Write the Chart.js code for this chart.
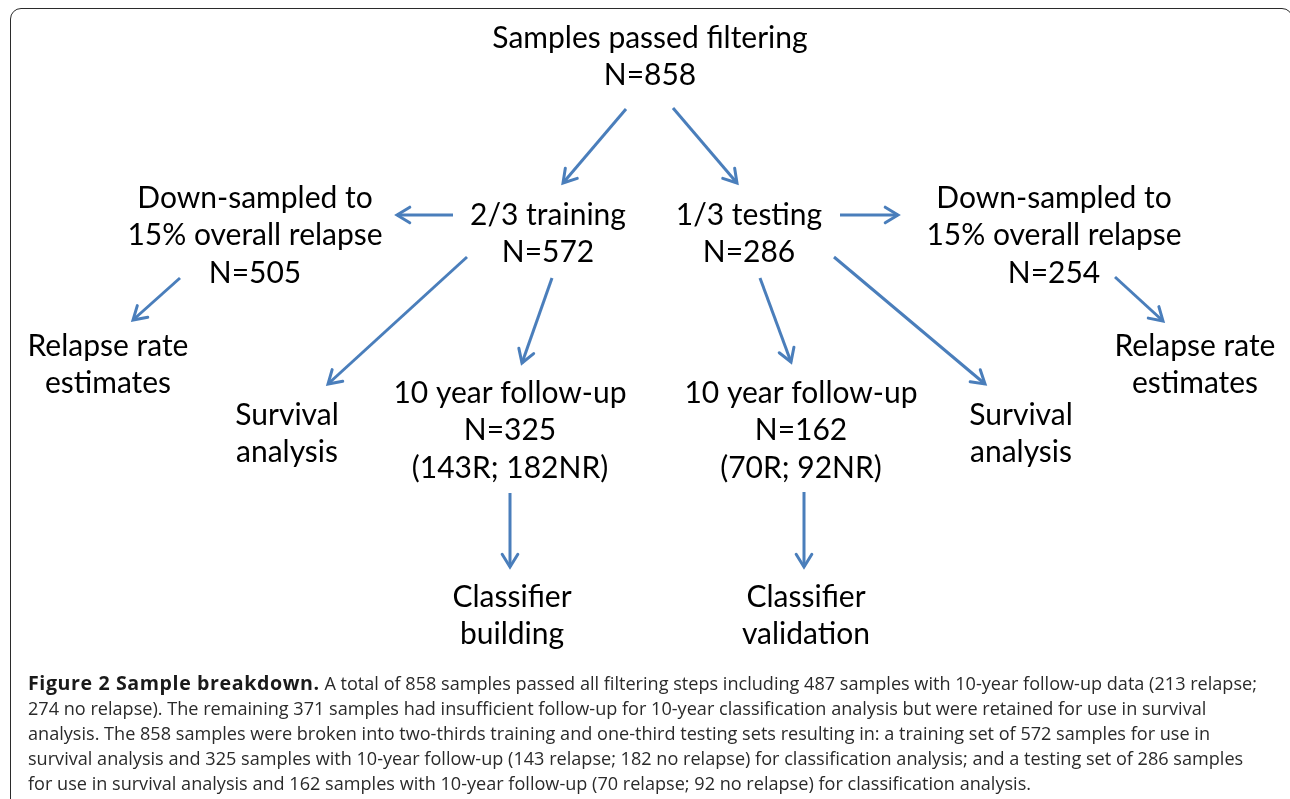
<!DOCTYPE html>
<html>
<head>
<meta charset="utf-8">
<script src="https://cdn.jsdelivr.net/npm/chart.js@4/dist/chart.umd.min.js"></script>
<style>
    html, body { margin: 0; padding: 0; background: #fff; overflow: hidden; }
    #wrap { position: relative; width: 1290px; height: 799px; overflow: hidden; }
    #flow { position: absolute; left: 0; top: 0; }
    #frame {
        position: absolute; left: 10px; top: 8px; width: 1283px; height: 820px;
        border: 1.5px solid #2b2b2b; border-radius: 11px 11px 0 0;
        box-sizing: border-box; pointer-events: none;
    }
    #caption {
        position: absolute; left: 28px; top: 670px; width: 1260px;
        font-family: "Open Sans", sans-serif; font-size: 18.1px; line-height: 25px;
        color: #2a2a2a; white-space: nowrap;
    }
    #caption b { font-weight: 700; color: #1a1a1a; font-size: 19.6px; letter-spacing: 0.6px; }
</style>
</head>
<body>
<div id="wrap">
    <canvas id="flow" width="1290" height="799"></canvas>
    <div id="frame"></div>
    <div id="caption">
        <b>Figure 2 Sample breakdown.</b> A total of 858 samples passed all filtering steps including 487 samples with 10-year follow-up data (213 relapse;<br>
        274 no relapse). The remaining 371 samples had insufficient follow-up for 10-year classification analysis but were retained for use in survival<br>
        analysis. The 858 samples were broken into two-thirds training and one-third testing sets resulting in: a training set of 572 samples for use in<br>
        survival analysis and 325 samples with 10-year follow-up (143 relapse; 182 no relapse) for classification analysis; and a testing set of 286 samples<br>
        for use in survival analysis and 162 samples with 10-year follow-up (70 relapse; 92 no relapse) for classification analysis.
    </div>
</div>

<script>
// Boites du diagramme : texte + centre (x) + ligne du haut (y)
const nodeLabels = [
    ['Samples passed filtering', 'N=858'],
    ['2/3 training', 'N=572'],
    ['1/3 testing', 'N=286'],
    ['Down-sampled to', '15% overall relapse', 'N=505'],
    ['Down-sampled to', '15% overall relapse', 'N=254'],
    ['Relapse rate', 'estimates'],
    ['Relapse rate', 'estimates'],
    ['Survival', 'analysis'],
    ['10 year follow-up', 'N=325', '(143R; 182NR)'],
    ['10 year follow-up', 'N=162', '(70R; 92NR)'],
    ['Survival', 'analysis'],
    ['Classifier', 'building'],
    ['Classifier', 'validation']
];
const nodeX = [650, 548, 749, 255, 1054, 108, 1195, 287, 510, 801, 1021, 512, 806];
const nodeY = [38, 215, 215, 198, 198, 346, 346, 415, 393, 393, 415, 597, 597];

// Fleches : depart -> pointe
const arrowStart = [
    [626, 109], [673, 108], [453, 215], [840, 215],
    [180, 278], [467, 257], [552, 278], [760, 278],
    [834, 257], [1115, 277], [510, 493], [804, 492]
];
const arrowEnd = [
    [563, 183], [737, 183], [397, 215], [898, 215],
    [133, 320], [328, 384], [522, 363], [791, 362],
    [985, 384], [1163, 321], [510, 567], [804, 567]
];

const ARROW_COLOR = '#4a7ebb';
const LINE_GAP = 37.5;

// ==================== PLUGINS ====================

const arrowHeads = {
    id: 'arrowHeads',
    afterDatasetsDraw(chart) {
        const ctx = chart.ctx;
        ctx.save();
        ctx.strokeStyle = ARROW_COLOR;
        ctx.lineWidth = 3;
        ctx.lineCap = 'round';
        chart.data.datasets.forEach((ds, i) => {
            const pts = chart.getDatasetMeta(i).data;
            const a = pts[0], b = pts[1];
            const ang = Math.atan2(b.y - a.y, b.x - a.x);
            const len = 15, spread = 0.55;
            ctx.beginPath();
            ctx.moveTo(b.x - len * Math.cos(ang - spread), b.y - len * Math.sin(ang - spread));
            ctx.lineTo(b.x, b.y);
            ctx.lineTo(b.x - len * Math.cos(ang + spread), b.y - len * Math.sin(ang + spread));
            ctx.stroke();
        });
        ctx.restore();
    }
};

const flowText = {
    id: 'flowText',
    afterDraw(chart) {
        const ctx = chart.ctx;
        const xs = chart.scales.x, ys = chart.scales.y;
        ctx.save();
        ctx.fillStyle = '#000';
        ctx.font = '30px Lato, "Open Sans", sans-serif';
        ctx.textAlign = 'center';
        ctx.textBaseline = 'middle';
        nodeLabels.forEach((lines, i) => {
            lines.forEach((txt, k) => {
                ctx.fillText(txt, xs.getPixelForValue(nodeX[i]), ys.getPixelForValue(nodeY[i] + k * LINE_GAP));
            });
        });
        ctx.restore();
    }
};

// ==================== GRAPHIQUE ====================

const datasets = arrowStart.map((s, i) => ({
    data: [{ x: s[0], y: s[1] }, { x: arrowEnd[i][0], y: arrowEnd[i][1] }],
    showLine: true,
    borderColor: ARROW_COLOR,
    borderWidth: 3,
    pointRadius: 0,
    fill: false
}));

new Chart(document.getElementById('flow').getContext('2d'), {
    type: 'scatter',
    data: { datasets: datasets },
    options: {
        responsive: false,
        animation: false,
        layout: { padding: 0 },
        plugins: {
            legend: { display: false },
            tooltip: { enabled: false }
        },
        scales: {
            x: { type: 'linear', min: 0, max: 1290, display: false },
            y: { type: 'linear', min: 0, max: 799, reverse: true, display: false }
        }
    },
    plugins: [arrowHeads, flowText]
});
</script>
</body>
</html>
